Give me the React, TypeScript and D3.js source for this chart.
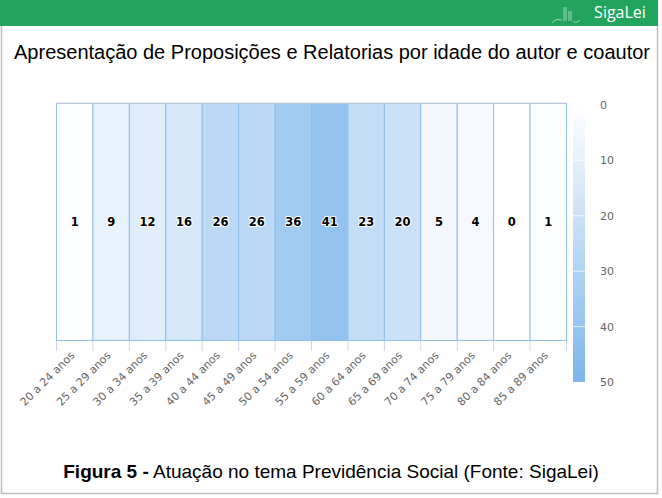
import React from "react";
import * as d3 from "d3";

const categories = ["20 a 24 anos","25 a 29 anos","30 a 34 anos","35 a 39 anos","40 a 44 anos","45 a 49 anos","50 a 54 anos","55 a 59 anos","60 a 64 anos","65 a 69 anos","70 a 74 anos","75 a 79 anos","80 a 84 anos","85 a 89 anos"];
const values = [1, 9, 12, 16, 26, 26, 36, 41, 23, 20, 5, 4, 0, 1];
const colorTicks = [0, 10, 20, 30, 40, 50];

const W = 662, H = 498;
const plot = { left: 56, right: 566, top: 103, bottom: 340 };
const bar = { x: 573, w: 12, top: 105, bottom: 382 };

export default function App() {
  const x = d3.scaleBand<string>().domain(categories).range([plot.left, plot.right]);
  const color = d3.scaleLinear<string>().domain([0, 50]).range(["#ffffff", "#7cb5ec"]);
  const cy = d3.scaleLinear().domain([0, 50]).range([bar.top, bar.bottom]);
  const font = "'DejaVu Sans', sans-serif";
  return (
    <svg width={W} height={H} style={{ position: "absolute", left: 0, top: 0, background: "#fff" }}>
      <defs>
        <linearGradient id="cg" x1="0" y1="0" x2="0" y2="1">
          <stop offset="0" stopColor={color(0)} />
          <stop offset="1" stopColor={color(50)} />
        </linearGradient>
      </defs>
      <rect x={1.5} y={0.5} width={656} height={493} fill="#fff" stroke="#bdbdbd" strokeWidth={1.5} />
      <rect x={0} y={0} width={658} height={26} fill="#22a45e" />
      {/* logo */}
      <g stroke="#d8f0e0" strokeWidth={0.8} fill="none" opacity={0.85}>
        <path d="M552 23 Q556 18 560 20 L562 20" />
        <path d="M564 7 L564 21 M566 7 L566 21" />
        <path d="M569 11 L569 21 M571 11 L571 21" />
        <path d="M573 21 Q576 24 580 20" />
      </g>
      <text x={620} y={18} fill="#fff" fontFamily="'Open Sans', sans-serif" fontSize={16} textAnchor="middle">SigaLei</text>
      <text x={332} y={59} fontFamily="'Liberation Sans', Arial, sans-serif" fontSize={20} textAnchor="middle" fill="#000">
        Apresentação de Proposições e Relatorias por idade do autor e coautor
      </text>

      {/* cells */}
      {categories.map((c, i) => (
        <rect key={c} x={x(c)! + 0.5} y={plot.top + 0.5} width={x.bandwidth()} height={plot.bottom - plot.top}
          fill={color(values[i])} stroke="#8fbfec" strokeWidth={1} />
      ))}
      <line x1={plot.left} x2={plot.right + 1} y1={plot.top} y2={plot.top} stroke="#d8d8d8" />
      {/* ticks */}
      {d3.range(categories.length + 1).map((i) => {
        const tx = plot.left + i * x.bandwidth() + 0.5;
        return <line key={i} x1={tx} x2={tx} y1={plot.bottom + 1} y2={plot.bottom + 11} stroke="#ccd6eb" />;
      })}
      {categories.map((c) => {
        const tx = x(c)! + x.bandwidth() / 2 + 1;
        const ty = plot.bottom + 16;
        return (
          <text key={c} x={tx} y={ty} transform={`rotate(-45 ${tx} ${ty})`} textAnchor="end"
            fontFamily={font} fontSize={11} fill="#666">{c}</text>
        );
      })}
      {/* data labels */}
      {categories.map((c, i) => (
        <text key={c} x={x(c)! + x.bandwidth() / 2 + 0.5} y={(plot.top + plot.bottom) / 2 + 4}
          textAnchor="middle" fontFamily={font} fontSize={11.5} fontWeight="bold" fill="#000"
          stroke="#fff" strokeWidth={2} strokeLinejoin="round" style={{ paintOrder: "stroke" }}>{values[i]}</text>
      ))}
      {/* color axis */}
      <rect x={bar.x} y={bar.top} width={bar.w} height={bar.bottom - bar.top} fill="url(#cg)" />
      {colorTicks.map((t) => (
        <g key={t}>
          {t > 0 && t < 50 && <line x1={bar.x} x2={bar.x + bar.w} y1={cy(t)} y2={cy(t)} stroke="#ffffff" strokeOpacity={0.7} />}
          <text x={600} y={cy(t) + 4} fontFamily={font} fontSize={11} fill="#666">{t}</text>
        </g>
      ))}

      <text x={331} y={478} fontFamily="'Liberation Sans', Arial, sans-serif" fontSize={19} textAnchor="middle" fill="#000">
        <tspan fontWeight="bold">Figura 5 -</tspan> Atuação no tema Previdência Social (Fonte: SigaLei)
      </text>
    </svg>
  );
}
